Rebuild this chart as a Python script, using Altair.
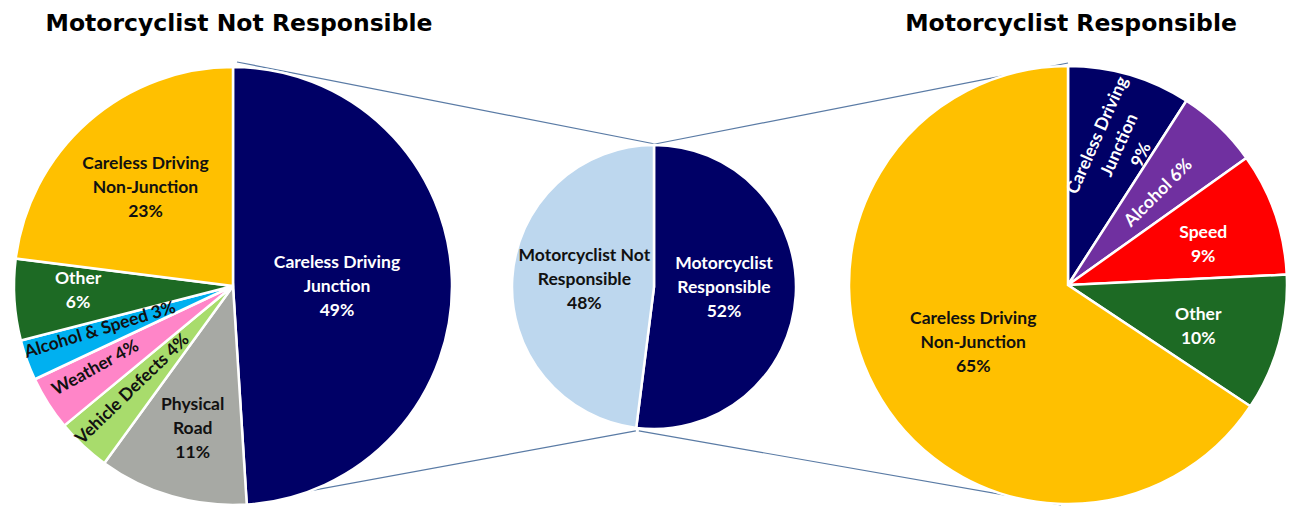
import math
import altair as alt
import pandas as pd

# ---------------- data ----------------
left_categories = ["Careless Driving Junction", "Physical Road", "Vehicle Defects", "Weather",
                   "Alcohol & Speed", "Other", "Careless Driving Non-Junction"]
left_values = [49, 11, 4, 4, 3, 6, 23]
left_labels = ["Careless Driving\nJunction\n49%", "Physical\nRoad\n11%", "Vehicle Defects 4%",
               "Weather 4%", "Alcohol & Speed 3%", "Other\n6%", "Careless Driving\nNon-Junction\n23%"]

mid_categories = ["Motorcyclist Responsible", "Motorcyclist Not Responsible"]
mid_values = [52, 48]
mid_labels = ["Motorcyclist\nResponsible\n52%", "Motorcyclist Not\nResponsible\n48%"]

right_categories = ["Careless Driving Junction", "Alcohol", "Speed", "Other", "Careless Driving Non-Junction"]
right_values = [9, 6, 9, 10, 65]
right_labels = ["Careless Driving\nJunction\n9%", "Alcohol 6%", "Speed\n9%", "Other\n10%",
                "Careless Driving\nNon-Junction\n65%"]

titles = ["Motorcyclist Not Responsible", "Motorcyclist Responsible"]

# ---------------- styles / layout ----------------
NAVY, YELLOW, GREY = "#000066", "#FFC000", "#A7A9A4"
LGREEN, PINK, CYAN, DGREEN = "#A8DC6C", "#FF85C8", "#00B0F0", "#1D6A24"
PURPLE, RED, LBLUE = "#7030A0", "#FF0000", "#BDD7EE"
W, B = "white", "#111111"

# label style: colour, distance from centre, angular nudge (deg), text rotation (deg)
left_colors = [NAVY, GREY, LGREEN, PINK, CYAN, DGREEN, YELLOW]
left_text = [W, B, B, B, B, W, B]
left_lr = [104, 149, 144, 160, 140, 155, 131]
left_dth = [2.6, -0.5, 1, 1.5, 1.4, 1.8, -0.5]
left_ang = [0, 0, 316, 331, 343, 0, 0]

mid_colors = [NAVY, LBLUE]
mid_text = [W, B]
mid_lr = [70, 70]
mid_dth = [-2.5, 2.5]
mid_ang = [0, 0]

right_colors = [NAVY, PURPLE, RED, DGREEN, YELLOW]
right_text = [W, W, W, W, B]
right_lr = [149, 129, 141, 137, 111]
right_dth = [4, 1, 2.6, 2.6, -3.2]
right_ang = [294, 315, 0, 0, 0]

CXL, CYL, RL = 233, 286, 219
CXM, CYM, RM = 654, 287, 142
CXR, CYR, RR = 1068, 285, 219

LABEL_FONT = "Lato"
LINE_H = 24


def pie(cats, vals, labels, colors, tcolors, lr, dth, ang, cx, cy, R):
    df = pd.DataFrame({"cat": cats, "value": vals, "label": labels, "color": colors,
                       "tcolor": tcolors, "lr": lr, "dth": dth, "ang": ang,
                       "ord": list(range(len(cats))),
                       "nl": [len(s.split("\n")) for s in labels]})
    base = alt.Chart(df)
    arc = base.mark_arc(radius=R, stroke="white", strokeWidth=2.5).encode(
        theta=alt.Theta("value:Q", stack="normalize"),
        color=alt.Color("color:N", scale=None),
        detail="cat:N",
        order=alt.Order("ord:Q"),
        x=alt.value(cx), y=alt.value(cy),
    )
    half = LINE_H / 2
    txt = base.transform_joinaggregate(
        total="sum(value)"
    ).transform_window(
        cum="sum(value)", sort=[alt.SortField("ord")], frame=[None, 0]
    ).transform_calculate(
        mid="2*PI*(datum.cum - datum.value/2)/datum.total + datum.dth*PI/180",
        rad="datum.ang*PI/180",
    ).transform_calculate(
        px=f"{cx} + datum.lr*sin(datum.mid) + (datum.nl-1)*{half}*sin(datum.rad)",
        py=f"{cy} - datum.lr*cos(datum.mid) - (datum.nl-1)*{half}*cos(datum.rad)",
    ).mark_text(font=LABEL_FONT, fontWeight="bold", fontSize=17.5, lineBreak="\n",
                lineHeight=LINE_H, align="center", baseline="middle").encode(
        x=alt.X("px:Q", scale=None),
        y=alt.Y("py:Q", scale=None),
        text="label:N",
        color=alt.Color("tcolor:N", scale=None),
        angle=alt.Angle("ang:Q", scale=None),
    )
    return [arc, txt]


# connector lines derived from the pie geometry
split = 2 * math.pi * mid_values[0] / sum(mid_values)
mbx = CXM + (RM + 3) * math.sin(split)
mby = CYM - (RM + 3) * math.cos(split)
conn = pd.DataFrame({
    "x": [CXL + 4, CXM + 1, CXL, mbx + 3],
    "y": [CYL - RL - 5, CYM - RM - 1, CYL + RL, mby],
    "x2": [CXM + 1, CXR, mbx, CXR - 7],
    "y2": [CYM - RM - 1, CYR - RR - 3, mby, CYR + RR + 1],
})
lines = alt.Chart(conn).mark_rule(color="#5A7BA5", strokeWidth=1.2).encode(
    x=alt.X("x:Q", scale=None), y=alt.Y("y:Q", scale=None),
    x2="x2:Q", y2="y2:Q",
)

tdf = pd.DataFrame({"t": titles, "tx": [CXL + 6, CXR + 3]})
title_layer = alt.Chart(tdf).mark_text(font="DejaVu Sans", fontWeight="bold", fontSize=23.5,
                                       align="center", baseline="alphabetic", color="black").encode(
    text="t:N", x=alt.X("tx:Q", scale=None), y=alt.value(31),
)

layers = [lines]
layers += pie(left_categories, left_values, left_labels, left_colors, left_text, left_lr, left_dth,
              left_ang, CXL, CYL, RL)
layers += pie(mid_categories, mid_values, mid_labels, mid_colors, mid_text, mid_lr, mid_dth,
              mid_ang, CXM, CYM, RM)
layers += pie(right_categories, right_values, right_labels, right_colors, right_text, right_lr,
              right_dth, right_ang, CXR, CYR, RR)
layers += [title_layer]

chart = alt.layer(*layers).properties(
    width=1289, height=506, padding=0, autosize=alt.AutoSizeParams(type="none"),
    background="white",
).configure_view(stroke=None)

chart.save("out.html", embed_options={"renderer": "svg", "actions": False})
